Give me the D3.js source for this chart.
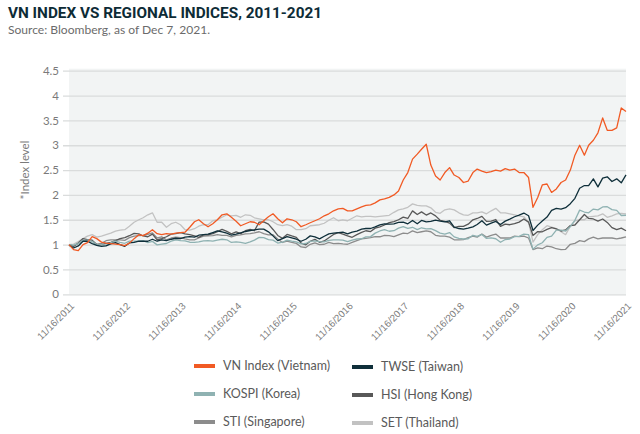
<!DOCTYPE html>
<html>
<head>
<meta charset="utf-8">
<script src="https://cdn.jsdelivr.net/npm/d3@7"></script>
<style>
  body { margin: 0; background: #fff; }
  svg { display: block; font-family: Lato, "Open Sans", sans-serif; }
</style>
</head>
<body>
<div id="chart"></div>
<script>
// Monthly index levels (rebased to 1.0 on 11/16/2011), Nov 2011 .. Nov 2021
const vnIndex = [
  1.0, 0.9,
  0.88, 1.0, 1.04, 1.16, 1.12, 1.05, 1.03, 1.02, 1.01, 1.0, 0.98, 1.03,
  1.12, 1.2, 1.18, 1.23, 1.3, 1.22, 1.2, 1.22, 1.21, 1.23, 1.24, 1.25,
  1.35, 1.46, 1.5, 1.42, 1.36, 1.42, 1.5, 1.6, 1.62, 1.55, 1.47, 1.38,
  1.42, 1.46, 1.45, 1.4, 1.48, 1.56, 1.62, 1.52, 1.44, 1.52, 1.5, 1.46,
  1.36, 1.4, 1.44, 1.48, 1.52, 1.58, 1.62, 1.68, 1.72, 1.73, 1.68, 1.68,
  1.72, 1.76, 1.79, 1.8, 1.84, 1.9, 1.92, 1.95, 2.0, 2.08, 2.3, 2.45,
  2.72, 2.82, 2.92, 3.02, 2.6, 2.38, 2.3, 2.45, 2.55, 2.4, 2.35, 2.25,
  2.28, 2.45, 2.52, 2.48, 2.45, 2.47, 2.5, 2.48, 2.53, 2.5, 2.52, 2.45,
  2.45, 2.35, 1.75, 1.95, 2.2, 2.22, 2.05, 2.12, 2.25, 2.3, 2.5, 2.8,
  3.0, 2.8, 3.0, 3.1, 3.25, 3.55, 3.3, 3.3, 3.35, 3.75, 3.68
];
const twse = [
  0.986, 0.932,
  0.973, 1.068, 1.068, 1.02, 0.986, 0.966, 0.973, 1.014, 1.041, 1.0, 0.966, 1.034,
  1.047, 1.068, 1.068, 1.068, 1.108, 1.068, 1.095, 1.081, 1.108, 1.128, 1.122, 1.149,
  1.162, 1.149, 1.189, 1.203, 1.209, 1.243, 1.277, 1.257, 1.23, 1.189, 1.209, 1.236,
  1.264, 1.284, 1.297, 1.311, 1.311, 1.257, 1.176, 1.081, 1.122, 1.162, 1.135, 1.108,
  1.068, 1.108, 1.176, 1.155, 1.115, 1.169, 1.216, 1.23, 1.243, 1.25, 1.216, 1.25,
  1.27, 1.311, 1.324, 1.324, 1.358, 1.399, 1.419, 1.412, 1.419, 1.446, 1.453, 1.419,
  1.486, 1.419, 1.486, 1.459, 1.466, 1.493, 1.473, 1.459, 1.48, 1.351, 1.324, 1.311,
  1.331, 1.358, 1.405, 1.48, 1.392, 1.432, 1.466, 1.405, 1.473, 1.514, 1.561, 1.595,
  1.635, 1.581, 1.284, 1.392, 1.473, 1.554, 1.689, 1.73, 1.716, 1.743, 1.824, 1.932,
  2.135, 2.189, 2.189, 2.324, 2.162, 2.338, 2.365, 2.27, 2.324, 2.243, 2.405
];
const kospi = [
  1.0, 0.989,
  1.022, 1.086, 1.091, 1.065, 0.995, 1.0, 0.984, 1.038, 1.07, 1.043, 1.027, 1.07,
  1.07, 1.07, 1.081, 1.038, 1.065, 0.995, 1.011, 1.022, 1.07, 1.097, 1.081, 1.075,
  1.048, 1.043, 1.054, 1.075, 1.081, 1.07, 1.091, 1.108, 1.097, 1.043, 1.054, 1.043,
  1.027, 1.054, 1.091, 1.145, 1.14, 1.102, 1.091, 1.032, 1.048, 1.091, 1.07, 1.054,
  1.016, 1.022, 1.065, 1.075, 1.059, 1.054, 1.086, 1.097, 1.097, 1.091, 1.059, 1.091,
  1.113, 1.118, 1.156, 1.161, 1.231, 1.274, 1.301, 1.269, 1.28, 1.333, 1.36, 1.328,
  1.349, 1.301, 1.339, 1.317, 1.323, 1.28, 1.231, 1.21, 1.242, 1.156, 1.124, 1.113,
  1.118, 1.188, 1.167, 1.204, 1.124, 1.134, 1.118, 1.048, 1.102, 1.113, 1.161, 1.167,
  1.21, 1.199, 0.909, 0.995, 1.038, 1.145, 1.172, 1.29, 1.29, 1.274, 1.366, 1.489,
  1.694, 1.656, 1.64, 1.715, 1.699, 1.758, 1.763, 1.704, 1.688, 1.586, 1.591
];
const hsi = [
  1.0, 0.963,
  1.032, 1.121, 1.1, 1.089, 1.0, 1.0, 1.026, 1.047, 1.079, 1.121, 1.142, 1.179,
  1.226, 1.216, 1.174, 1.158, 1.211, 1.095, 1.121, 1.158, 1.211, 1.221, 1.242, 1.216,
  1.2, 1.174, 1.147, 1.195, 1.195, 1.221, 1.263, 1.305, 1.268, 1.216, 1.258, 1.221,
  1.279, 1.305, 1.279, 1.453, 1.458, 1.411, 1.305, 1.184, 1.126, 1.205, 1.174, 1.147,
  1.032, 0.995, 1.068, 1.105, 1.047, 1.074, 1.137, 1.205, 1.242, 1.211, 1.174, 1.147,
  1.2, 1.247, 1.279, 1.263, 1.332, 1.358, 1.395, 1.442, 1.463, 1.5, 1.553, 1.526,
  1.679, 1.605, 1.658, 1.595, 1.637, 1.579, 1.489, 1.468, 1.432, 1.342, 1.368, 1.368,
  1.411, 1.5, 1.526, 1.568, 1.468, 1.474, 1.505, 1.368, 1.411, 1.4, 1.421, 1.453,
  1.516, 1.453, 1.184, 1.263, 1.258, 1.305, 1.342, 1.316, 1.274, 1.295, 1.384, 1.395,
  1.5, 1.605, 1.526, 1.516, 1.474, 1.516, 1.447, 1.342, 1.3, 1.332, 1.28
];
const sti = [
  1.0, 0.971,
  1.025, 1.072, 1.079, 1.072, 1.007, 1.025, 1.079, 1.097, 1.097, 1.097, 1.086, 1.14,
  1.169, 1.18, 1.187, 1.205, 1.234, 1.133, 1.158, 1.097, 1.133, 1.151, 1.14, 1.115,
  1.097, 1.097, 1.133, 1.169, 1.176, 1.18, 1.201, 1.187, 1.187, 1.158, 1.187, 1.198,
  1.216, 1.223, 1.237, 1.259, 1.223, 1.194, 1.198, 1.115, 1.043, 1.072, 1.043, 1.025,
  0.953, 0.942, 1.007, 1.036, 1.0, 1.007, 1.043, 1.018, 1.025, 1.014, 1.007, 1.043,
  1.079, 1.115, 1.126, 1.14, 1.162, 1.158, 1.187, 1.18, 1.162, 1.198, 1.23, 1.223,
  1.277, 1.241, 1.259, 1.277, 1.259, 1.187, 1.169, 1.169, 1.151, 1.097, 1.097, 1.101,
  1.14, 1.169, 1.151, 1.212, 1.151, 1.187, 1.212, 1.133, 1.133, 1.133, 1.169, 1.162,
  1.169, 1.133, 0.899, 0.935, 0.917, 0.971, 0.953, 0.917, 0.899, 0.906, 1.007, 1.025,
  1.079, 1.061, 1.115, 1.151, 1.115, 1.133, 1.133, 1.133, 1.115, 1.133, 1.158
];
const setIndex = [
  1.0, 1.01,
  1.06, 1.12, 1.17, 1.2, 1.15, 1.17, 1.2, 1.23, 1.27, 1.29, 1.3, 1.37,
  1.45, 1.5, 1.54, 1.6, 1.64, 1.45, 1.45, 1.35, 1.42, 1.45, 1.4, 1.3,
  1.29, 1.32, 1.37, 1.4, 1.4, 1.48, 1.5, 1.55, 1.6, 1.58, 1.59, 1.55,
  1.6, 1.59, 1.54, 1.52, 1.5, 1.5, 1.46, 1.4, 1.38, 1.4, 1.37, 1.3,
  1.3, 1.32, 1.38, 1.39, 1.4, 1.43, 1.49, 1.54, 1.48, 1.5, 1.48, 1.53,
  1.58, 1.56, 1.57, 1.57, 1.56, 1.57, 1.58, 1.59, 1.65, 1.7, 1.72, 1.75,
  1.82, 1.79, 1.78, 1.78, 1.74, 1.65, 1.63, 1.7, 1.72, 1.7, 1.64, 1.6,
  1.59, 1.64, 1.64, 1.66, 1.62, 1.68, 1.73, 1.64, 1.64, 1.62, 1.6, 1.58,
  1.56, 1.45, 1.05, 1.2, 1.3, 1.38, 1.35, 1.32, 1.26, 1.2, 1.37, 1.48,
  1.5, 1.5, 1.56, 1.57, 1.58, 1.62, 1.55, 1.58, 1.62, 1.63, 1.62
];

const tickLabels = ["11/16/2011", "11/16/2012", "11/16/2013", "11/16/2014", "11/16/2015",
  "11/16/2016", "11/16/2017", "11/16/2018", "11/16/2019", "11/16/2020", "11/16/2021"];
const yTicks = [0, 0.5, 1, 1.5, 2, 2.5, 3, 3.5, 4, 4.5];

const seriesNames = ["VN Index (Vietnam)", "TWSE (Taiwan)", "KOSPI (Korea)",
  "HSI (Hong Kong)", "STI (Singapore)", "SET (Thailand)"];
const seriesValues = [vnIndex, twse, kospi, hsi, sti, setIndex];
const seriesColors = ["#f15a24", "#0f2f3a", "#8fb2b2", "#585858", "#8c8c8c", "#c2c2c2"];

const width = 640;
const height = 434;
const m = { top: 70.7, right: 14, bottom: 139.7, left: 69 };

const parseDate = d3.timeParse("%m/%d/%Y");
const start = parseDate(tickLabels[0]);
const months = d3.range(vnIndex.length).map(i => d3.timeMonth.offset(start, i));

const svg = d3.select("#chart").append("svg")
  .attr("width", width)
  .attr("height", height);

// Title and source
svg.append("text")
  .attr("x", 8).attr("y", 18)
  .attr("font-family", "Roboto, sans-serif")
  .attr("font-weight", 700)
  .attr("font-size", 15.5)
  .attr("fill", "#0d2b36")
  .attr("textLength", 314)
  .attr("lengthAdjust", "spacingAndGlyphs")
  .text("VN INDEX VS REGIONAL INDICES, 2011-2021");

svg.append("text")
  .attr("x", 8).attr("y", 33.5)
  .attr("font-size", 11.5)
  .attr("fill", "#6b6b6b")
  .attr("textLength", 202)
  .attr("lengthAdjust", "spacingAndGlyphs")
  .text("Source: Bloomberg, as of Dec 7, 2021.");

const x = d3.scaleTime()
  .domain([start, parseDate(tickLabels[tickLabels.length - 1])])
  .range([m.left, width - m.right]);

const y = d3.scaleLinear()
  .domain([0, 4.5])
  .range([height - m.bottom, m.top]);

// Plot background
svg.append("rect")
  .attr("x", m.left)
  .attr("y", y(4.5) - 2)
  .attr("width", width - m.right - m.left)
  .attr("height", y(0) - y(4.5) + 2)
  .attr("fill", "#f2f4f4");

// Y axis with gridlines
const yAxis = svg.append("g")
  .attr("transform", `translate(${width - m.right}, 0)`)
  .call(d3.axisLeft(y)
    .tickValues(yTicks)
    .tickSize(width - m.right - m.left + 6)
    .tickPadding(4)
    .tickFormat(d => d));
yAxis.select(".domain").remove();
yAxis.selectAll("line").attr("stroke", "#dadcdc").attr("stroke-width", 1.3);
yAxis.selectAll("text")
  .attr("fill", "#7a7a7a")
  .attr("font-size", 11.5)
  .attr("font-family", "Lato, sans-serif");

svg.append("text")
  .attr("transform", "translate(29, 170) rotate(-90)")
  .attr("text-anchor", "middle")
  .attr("font-size", 11.5)
  .attr("fill", "#7a7a7a")
  .text("*Index level");

// X axis labels
const xAxis = svg.append("g")
  .attr("transform", `translate(0, ${y(0)})`)
  .call(d3.axisBottom(x)
    .tickValues(tickLabels.map(parseDate))
    .tickSize(0)
    .tickFormat(d3.timeFormat("%m/%d/%Y")));
xAxis.select(".domain").remove();
xAxis.selectAll("text")
  .text((d, i) => tickLabels[i])
  .attr("fill", "#7a7a7a")
  .attr("font-size", 9.8)
  .attr("text-anchor", "end")
  .attr("dy", "0.35em")
  .attr("transform", "translate(3, 10) rotate(-45)")
  .attr("y", 0)
  .attr("x", 0);

// Lines (draw back to front so VN Index ends on top)
const line = d3.line()
  .x((d, i) => x(months[i]))
  .y(d => y(d));

const order = [5, 4, 3, 2, 1, 0];
svg.append("g")
  .selectAll("path")
  .data(order)
  .join("path")
  .attr("fill", "none")
  .attr("stroke", i => seriesColors[i])
  .attr("stroke-width", 1.3)
  .attr("stroke-linejoin", "round")
  .attr("d", i => line(seriesValues[i]));

// Legend: two columns, three rows
const legend = svg.append("g");
const legendItems = legend.selectAll("g")
  .data(seriesNames)
  .join("g")
  .attr("transform", (d, i) => `translate(${i % 2 === 0 ? 194 : 352}, ${366 + Math.floor(i / 2) * 28 + (i % 2) * 1})`);

legendItems.append("rect")
  .attr("x", 0).attr("y", -2)
  .attr("width", 21).attr("height", 4)
  .attr("fill", (d, i) => seriesColors[i]);

legendItems.append("text")
  .attr("x", 29)
  .attr("y", 0)
  .attr("dy", "0.35em")
  .attr("font-size", 12.5)
  .attr("fill", "#5a5a5a")
  .text(d => d);
</script>
</body>
</html>
